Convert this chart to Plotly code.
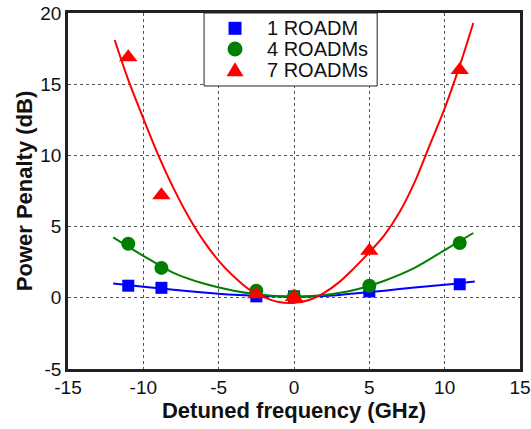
import plotly.graph_objects as go

# Measured points
x_meas = [-11, -8.8, -2.5, 0, 5, 11]
y_1roadm = [0.85, 0.7, 0.1, 0.1, 0.45, 0.95]
y_4roadm = [3.8, 2.1, 0.5, 0.1, 0.85, 3.85]
y_7roadm = [16.9, 7.2, 0.25, 0.05, 3.3, 16.0]

# Fitted curves
x_fit_blue = [-12, -10, -8, -6, -4, -2, 0, 2, 4, 6, 8, 10, 12]
y_fit_blue = [1.0, 0.78, 0.57, 0.38, 0.22, 0.12, 0.08, 0.12, 0.3, 0.5, 0.72, 0.92, 1.15]
x_fit_green = [-12, -10, -8, -6, -4, -2, 0, 2, 4, 6, 8, 10, 11.9]
y_fit_green = [4.25, 2.95, 1.75, 1.0, 0.5, 0.2, 0.08, 0.2, 0.55, 1.2, 2.1, 3.35, 4.55]
x_fit_red = [-11.9, -11, -10, -9, -8, -7, -6, -5, -4, -3, -2, -1, 0, 1, 2, 3, 4, 5, 6, 7, 8, 9, 10, 11, 11.9]
y_fit_red = [18.1, 15.3, 12.6, 10.0, 7.7, 5.7, 4.0, 2.6, 1.5, 0.6, 0.05, -0.3, -0.35, -0.15, 0.35, 1.1, 2.1, 3.2, 4.4, 6.0, 8.1, 10.7, 13.3, 16.3, 19.3]

x_ticks = [-15, -10, -5, 0, 5, 10, 15]
x_ticktext = ["-15", "-10", "-5", "0", "5", "10", "15"]
y_ticks = [-5, 0, 5, 10, 15, 20]
y_ticktext = ["-5", "0", "5", "10", "15", "20"]

names = ["1 ROADM", "4 ROADMs", "7 ROADMs"]
colors = ["#0000FF", "#008000", "#FF0000"]
symbols = ["square", "circle", "triangle-up"]
sizes = [12, 14, 16]

fig = go.Figure()
fits = [(x_fit_blue, y_fit_blue), (x_fit_green, y_fit_green), (x_fit_red, y_fit_red)]
meas = [y_1roadm, y_4roadm, y_7roadm]
for i in range(3):
    fig.add_trace(go.Scatter(x=fits[i][0], y=fits[i][1], mode="lines", line=dict(color=colors[i], width=2, shape="spline"),
                             showlegend=False, hoverinfo="skip", name=names[i] + " fit"))
    fig.add_trace(go.Scatter(x=x_meas, y=meas[i], mode="markers", name=names[i], showlegend=False,
                             marker=dict(color=colors[i], symbol=symbols[i], size=sizes[i])))

axis_common = dict(showline=True, linecolor="#222222", linewidth=2.5, mirror=True,
                   showgrid=True, gridcolor="#555555", griddash="dot", gridwidth=1,
                   zeroline=False, ticks="", automargin=False, ticklabeloverflow="allow",
                   tickfont=dict(size=19, color="#111111"))

# Legend box drawn in paper coordinates
lx0, lx1, ly0, ly1 = 0.301, 0.684, 0.795, 1.0
mx, tx = 0.3695, 0.436
rows = [0.957, 0.899, 0.839]
shapes = [dict(type="rect", xref="paper", yref="paper", x0=lx0, x1=lx1, y0=ly0, y1=ly1,
               line=dict(color="#222222", width=1), fillcolor="white", layer="above")]
shapes.append(dict(type="rect", xref="paper", yref="paper", xsizemode="pixel", ysizemode="pixel",
                   xanchor=mx, yanchor=rows[0], x0=-6.5, x1=6.5, y0=-6.5, y1=6.5,
                   fillcolor=colors[0], line=dict(width=0), layer="above"))
shapes.append(dict(type="circle", xref="paper", yref="paper", xsizemode="pixel", ysizemode="pixel",
                   xanchor=mx, yanchor=rows[1], x0=-7.5, x1=7.5, y0=-7.5, y1=7.5,
                   fillcolor=colors[1], line=dict(width=0), layer="above"))
shapes.append(dict(type="path", xref="paper", yref="paper", xsizemode="pixel", ysizemode="pixel",
                   xanchor=mx, yanchor=rows[2], path="M -8.5,-6 L 8.5,-6 L 0,8 Z",
                   fillcolor=colors[2], line=dict(width=0), layer="above"))
annotations = [dict(text=names[i], xref="paper", yref="paper", x=tx, y=rows[i], xanchor="left", yanchor="middle",
                    showarrow=False, font=dict(size=20, color="#111111")) for i in range(3)]

fig.update_layout(
    width=531, height=429,
    margin=dict(l=68, r=11, t=13, b=60),
    paper_bgcolor="white", plot_bgcolor="white",
    font=dict(family="Arial, Liberation Sans, sans-serif", color="#111111"),
    xaxis=dict(range=[-15, 15], tickvals=x_ticks, ticktext=x_ticktext, ticklabelstandoff=-1,
               title=dict(text="<b>Detuned frequency (GHz)</b>", font=dict(size=22), standoff=0), **axis_common),
    yaxis=dict(range=[-5, 20], tickvals=y_ticks, ticktext=y_ticktext,
               title=dict(text="<b>Power Penalty (dB)</b>", font=dict(size=22), standoff=2), **axis_common),
    shapes=shapes,
    annotations=annotations,
    showlegend=False,
)

fig.write_html("out.html", config={"displayModeBar": False},
               post_script="document.body.style.margin='0px';")
